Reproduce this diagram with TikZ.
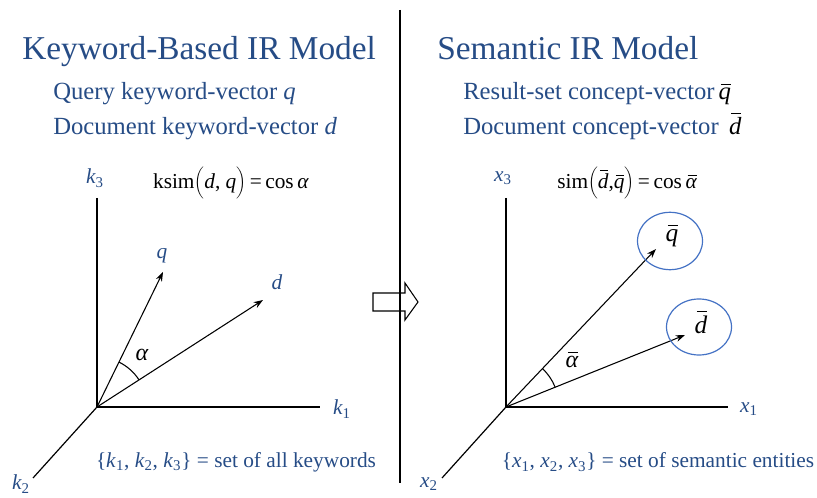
\documentclass[tikz,border=0pt]{standalone}
\usepackage{fontspec}
\setmainfont{Liberation Serif}
\usetikzlibrary{arrows.meta}
\definecolor{tblue}{RGB}{38,76,134}
\definecolor{cblue}{RGB}{68,114,196}
\newcommand{\ovl}[1]{\begingroup\itshape\setbox0=\hbox{#1}\dimen0=\ht0\advance\dimen0 by 0.14em\leavevmode\rlap{\hskip0.18\wd0\raise\dimen0\hbox{\vrule width 0.8\wd0 height 0.055em depth 0pt}}\box0\endgroup}
\begin{document}
\begin{tikzpicture}[x=0.75pt,y=-0.75pt,
  axisline/.style={line width=2.2pt},
  diagline/.style={line width=0.9pt},
  vec/.style={line width=0.8pt,-{Stealth[length=7pt,width=5pt]}},
  arcline/.style={line width=0.8pt},
  lbl/.style={text=tblue,font=\fontsize{16}{18}\selectfont\itshape,inner sep=0pt},
  blk/.style={text=black,font=\fontsize{16}{18}\selectfont,inner sep=0pt},
  bigblk/.style={text=black,font=\fontsize{19}{22}\selectfont,inner sep=0pt},
  titletext/.style={text=tblue,font=\fontsize{25}{30}\selectfont,anchor=base west,inner sep=0pt},
  subtext/.style={text=tblue,font=\fontsize{18.5}{22}\selectfont,anchor=base west,inner sep=0pt},
  settext/.style={text=tblue,font=\fontsize{16}{18}\selectfont,inner sep=0pt},
  entity/.style={draw=cblue,line width=0.9pt}]
\useasboundingbox (0,0) rectangle (817,498);

% ---------- titles ----------
\node[titletext] (t1) at (22,60) {Keyword-Based IR Model};
\node[subtext] (s1) at (53,100) {Query keyword-vector \textit{q}};
\node[subtext] (s2) at (53,135) {Document keyword-vector \textit{d}};
\node[titletext] (t2) at (437,60) {Semantic IR Model};
\node[subtext] (s3) at (463,100) {Result-set concept-vector\,{\color{black}\ovl{q}}};
\node[subtext] (s4) at (463,135) {Document concept-vector \,{\color{black}\ovl{d}}};

% ---------- block arrow and divider ----------
\draw[line width=0.8pt,fill=white] (373,293) -- (405,293) -- (405,283) -- (418,302)
  -- (405,320) -- (405,311) -- (373,311) -- cycle;
\coordinate (divtop) at (400,10);
\coordinate (divbot) at (400,483);
\draw[line width=1.6pt] (divtop) -- (divbot);

% ---------- left axes ----------
\coordinate (O1) at (97,407);
\coordinate (k3e) at (97,198);
\coordinate (k1e) at (320,407);
\coordinate (k2e) at (33,478);
\coordinate (qe) at (163,272);
\coordinate (de) at (263,300);
\draw[axisline] (k3e) -- (O1) -- (k1e);
\draw[diagline] (O1) -- (k2e);
\draw[vec] (O1) -- (qe);
\draw[vec] (O1) -- (de);
\draw[arcline] (O1) ++(-32.8:50) arc[start angle=-32.8,end angle=-63.9,radius=50];
\node[lbl] (k3) at (95,178) {k\textsubscript{\upshape 3}};
\node[lbl] (k1) at (342,409) {k\textsubscript{\upshape 1}};
\node[lbl] (k2) at (21,484) {k\textsubscript{\upshape 2}};
\node[lbl] (ql) at (162,256) {q};
\node[lbl] (dl) at (277,282) {d};
\node[blk,font=\fontsize{18}{20}\selectfont] (al) at (142,355) {\itshape α};
\node[blk] (f1) at (231,183) {ksim$\biggl($\textit{d}, \textit{q}$\biggr)$\,=\,cos\,\textit{α}};
\node[settext] (set1) at (236,462) {\{\textit{k}\textsubscript{1}, \textit{k}\textsubscript{2}, \textit{k}\textsubscript{3}\} =\ set of all keywords};

% ---------- right axes ----------
\coordinate (O2) at (506,407);
\coordinate (x3e) at (506,198);
\coordinate (x1e) at (728,407);
\coordinate (x2e) at (442,478);
\coordinate (qbe) at (656,249);
\coordinate (dbe) at (685,335);
\draw[axisline] (x3e) -- (O2) -- (x1e);
\draw[diagline] (O2) -- (x2e);
\draw[vec] (O2) -- (qbe);
\draw[vec] (O2) -- (dbe);
\draw[arcline] (O2) ++(-21.9:53) arc[start angle=-21.9,end angle=-46.5,radius=53];
\draw[entity] (670,241) ellipse[x radius=32.5,y radius=28.7];
\draw[entity] (699,327) ellipse[x radius=32.5,y radius=28];
\node[lbl] (x3) at (503,178) {x\textsubscript{\upshape 3}};
\node[lbl] (x1) at (749,409) {x\textsubscript{\upshape 1}};
\node[lbl] (x2) at (429,484) {x\textsubscript{\upshape 2}};
\node[bigblk] (qbl) at (672,236) {\ovl{q}};
\node[bigblk] (dbl) at (701,322) {\ovl{d}};
\node[blk,font=\fontsize{18}{20}\selectfont] (abl) at (572,360) {\ovl{α}};
\node[blk] (f2) at (627,183) {sim$\biggl($\ovl{d},\ovl{q}$\biggr)$\,=\,cos\,\ovl{α}};
\node[settext] (set2) at (658,462) {\{\textit{x}\textsubscript{1}, \textit{x}\textsubscript{2}, \textit{x}\textsubscript{3}\} = set of semantic entities};
\end{tikzpicture}
\end{document}
